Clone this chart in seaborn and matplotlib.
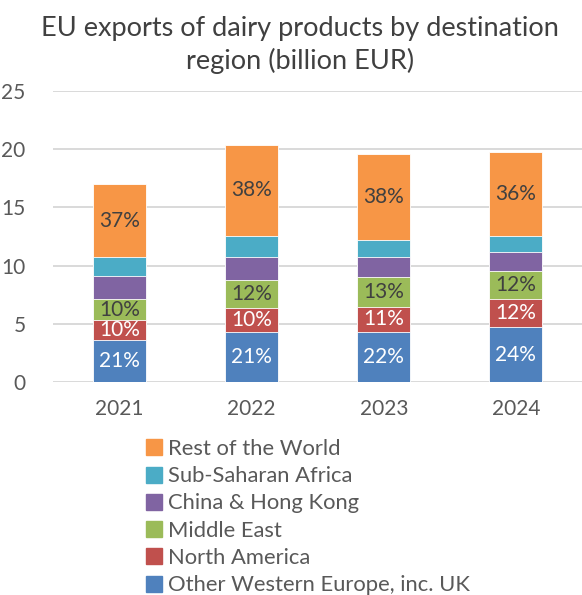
import matplotlib
matplotlib.use("Agg")
import matplotlib.pyplot as plt
from matplotlib.lines import Line2D
import seaborn as sns
import pandas as pd
import numpy as np

years = ["2021", "2022", "2023", "2024"]
regions = ["Other Western Europe, inc. UK", "North America", "Middle East",
           "China & Hong Kong", "Sub-Saharan Africa", "Rest of the World"]
other_western_europe = [3.58, 4.27, 4.32, 4.70]
north_america = [1.75, 2.11, 2.15, 2.43]
middle_east = [1.77, 2.38, 2.55, 2.41]
china_hong_kong = [2.03, 2.01, 1.75, 1.61]
sub_saharan_africa = [1.58, 1.80, 1.46, 1.42]
rest_of_world = [6.30, 7.79, 7.36, 7.15]
labelled = ["Other Western Europe, inc. UK", "North America", "Middle East", "Rest of the World"]
yticks = [0, 5, 10, 15, 20, 25]

colors = {
    "Other Western Europe, inc. UK": "#4f81bd",
    "North America": "#c0504d",
    "Middle East": "#9bbb59",
    "China & Hong Kong": "#8064a2",
    "Sub-Saharan Africa": "#4bacc6",
    "Rest of the World": "#f79646",
}
label_colors = {
    "Other Western Europe, inc. UK": "white",
    "North America": "white",
    "Middle East": "#404040",
    "Rest of the World": "#404040",
}

values = pd.DataFrame(
    [other_western_europe, north_america, middle_east,
     china_hong_kong, sub_saharan_africa, rest_of_world],
    index=regions, columns=years,
)
cum = values.cumsum()
totals = values.sum()

sns.set_style("white")
plt.rcParams["font.family"] = ["Lato", "DejaVu Sans"]

fig = plt.figure(figsize=(5.82, 5.95), dpi=100)
ax = fig.add_axes([53.4 / 582, 1 - 382 / 595, (582 - 53.4) / 582, (382 - 91) / 595])

# stacked bars: draw cumulative heights from the top layer down
for region in regions[::-1]:
    df = pd.DataFrame({"year": years, "value": cum.loc[region].values})
    sns.barplot(data=df, x="year", y="value", color=colors[region], width=0.4,
                saturation=1, edgecolor="white", linewidth=0.6, ax=ax, zorder=3)

for i, y in enumerate(years):
    for region in labelled:
        top = cum.loc[region, y]
        seg = values.loc[region, y]
        pct = round(100 * seg / totals[y])
        ax.text(i, top - seg / 2, f"{pct}%", ha="center", va="center",
                fontsize=15, color=label_colors[region], zorder=5)

ax.set_ylim(0, 25)
ax.set_xlim(-0.5, 3.5)
ax.set_yticks(yticks)
ax.yaxis.grid(True, color="#d9d9d9", linewidth=1.4, zorder=0)
ax.set_axisbelow(True)
for s in ax.spines.values():
    s.set_visible(False)
ax.tick_params(axis="both", length=0, labelsize=15, labelcolor="#595959")
ax.tick_params(axis="y", pad=20)
ax.tick_params(axis="x", pad=12)
ax.set_xlabel("")
ax.set_ylabel("")

fig.text(0.515, 1 - 16 / 595, "EU exports of dairy products by destination\nregion (billion EUR)",
         ha="center", va="top", fontsize=19.5, color="#404040", linespacing=1.32)

handles = [Line2D([], [], marker="s", linestyle="", markersize=11,
                  markerfacecolor=colors[r], markeredgecolor=colors[r]) for r in regions[::-1]]
fig.legend(handles, regions[::-1], loc="upper left",
           bbox_to_anchor=(132 / 582, 1 - 428 / 595), frameon=False,
           fontsize=15.8, labelcolor="#595959", handletextpad=0.15,
           labelspacing=0.33, borderpad=0, handlelength=1.0)

fig.savefig("out.png", dpi=100)
